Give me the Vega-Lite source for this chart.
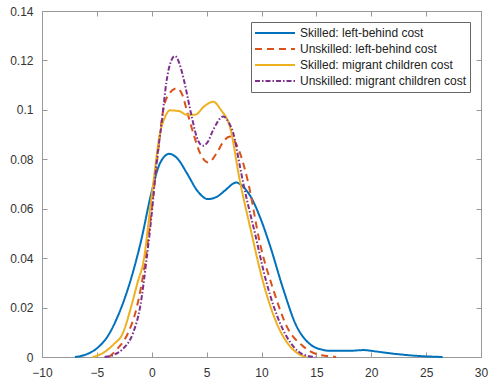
{
  "$schema": "https://vega.github.io/schema/vega-lite/v6.json",
  "width": 439,
  "height": 346,
  "autosize": "none",
  "padding": {"left": 42, "top": 11, "right": 9, "bottom": 29},
  "background": "white",
  "config": {
    "view": {"stroke": "#999999", "strokeWidth": 1},
    "font": "Liberation Sans",
    "axis": {
      "domainColor": "#999999",
      "tickColor": "#999999",
      "grid": false,
      "labelFont": "Liberation Sans",
      "labelFontSize": 12,
      "labelColor": "#333333",
      "tickSize": -5,
      "titleFontSize": 0
    }
  },
  "data": {
    "values": [
      {"s": "Skilled: left-behind cost", "x": -7.0, "y": 0},
      {"s": "Skilled: left-behind cost", "x": -6, "y": 0.001},
      {"s": "Skilled: left-behind cost", "x": -5, "y": 0.0035},
      {"s": "Skilled: left-behind cost", "x": -4, "y": 0.0085},
      {"s": "Skilled: left-behind cost", "x": -3, "y": 0.0175},
      {"s": "Skilled: left-behind cost", "x": -2, "y": 0.03},
      {"s": "Skilled: left-behind cost", "x": -1, "y": 0.0465},
      {"s": "Skilled: left-behind cost", "x": 0, "y": 0.067},
      {"s": "Skilled: left-behind cost", "x": 0.75, "y": 0.0784},
      {"s": "Skilled: left-behind cost", "x": 1.6, "y": 0.0822},
      {"s": "Skilled: left-behind cost", "x": 2.4, "y": 0.080},
      {"s": "Skilled: left-behind cost", "x": 3.2, "y": 0.0744},
      {"s": "Skilled: left-behind cost", "x": 4.2, "y": 0.067},
      {"s": "Skilled: left-behind cost", "x": 5.1, "y": 0.0639},
      {"s": "Skilled: left-behind cost", "x": 6.0, "y": 0.065},
      {"s": "Skilled: left-behind cost", "x": 6.7, "y": 0.0675},
      {"s": "Skilled: left-behind cost", "x": 7.7, "y": 0.0706},
      {"s": "Skilled: left-behind cost", "x": 8.3, "y": 0.069},
      {"s": "Skilled: left-behind cost", "x": 9.0, "y": 0.065},
      {"s": "Skilled: left-behind cost", "x": 10.0, "y": 0.055},
      {"s": "Skilled: left-behind cost", "x": 10.8, "y": 0.0447},
      {"s": "Skilled: left-behind cost", "x": 12.0, "y": 0.0272},
      {"s": "Skilled: left-behind cost", "x": 13.2, "y": 0.0124},
      {"s": "Skilled: left-behind cost", "x": 14.0, "y": 0.007},
      {"s": "Skilled: left-behind cost", "x": 14.7, "y": 0.0043},
      {"s": "Skilled: left-behind cost", "x": 15.5, "y": 0.003},
      {"s": "Skilled: left-behind cost", "x": 16.2, "y": 0.0025},
      {"s": "Skilled: left-behind cost", "x": 18.0, "y": 0.0025},
      {"s": "Skilled: left-behind cost", "x": 19.3, "y": 0.0028},
      {"s": "Skilled: left-behind cost", "x": 20.5, "y": 0.0022},
      {"s": "Skilled: left-behind cost", "x": 22.3, "y": 0.0012},
      {"s": "Skilled: left-behind cost", "x": 24.4, "y": 0.0004},
      {"s": "Skilled: left-behind cost", "x": 26.5, "y": 0},

      {"s": "Unskilled: left-behind cost", "x": -3.9, "y": 0},
      {"s": "Unskilled: left-behind cost", "x": -3.2, "y": 0.003},
      {"s": "Unskilled: left-behind cost", "x": -2.13, "y": 0.01},
      {"s": "Unskilled: left-behind cost", "x": -1.37, "y": 0.02},
      {"s": "Unskilled: left-behind cost", "x": -0.55, "y": 0.04},
      {"s": "Unskilled: left-behind cost", "x": 0, "y": 0.06},
      {"s": "Unskilled: left-behind cost", "x": 0.5, "y": 0.08},
      {"s": "Unskilled: left-behind cost", "x": 1.05, "y": 0.1},
      {"s": "Unskilled: left-behind cost", "x": 1.66, "y": 0.107},
      {"s": "Unskilled: left-behind cost", "x": 2.27, "y": 0.1087},
      {"s": "Unskilled: left-behind cost", "x": 2.8, "y": 0.106},
      {"s": "Unskilled: left-behind cost", "x": 3.18, "y": 0.1},
      {"s": "Unskilled: left-behind cost", "x": 3.79, "y": 0.0905},
      {"s": "Unskilled: left-behind cost", "x": 4.4, "y": 0.0825},
      {"s": "Unskilled: left-behind cost", "x": 5.15, "y": 0.0787},
      {"s": "Unskilled: left-behind cost", "x": 5.92, "y": 0.0825},
      {"s": "Unskilled: left-behind cost", "x": 6.5, "y": 0.087},
      {"s": "Unskilled: left-behind cost", "x": 7.13, "y": 0.0892},
      {"s": "Unskilled: left-behind cost", "x": 7.6, "y": 0.087},
      {"s": "Unskilled: left-behind cost", "x": 8.04, "y": 0.0825},
      {"s": "Unskilled: left-behind cost", "x": 8.8, "y": 0.0703},
      {"s": "Unskilled: left-behind cost", "x": 9.86, "y": 0.046},
      {"s": "Unskilled: left-behind cost", "x": 11.08, "y": 0.0272},
      {"s": "Unskilled: left-behind cost", "x": 12.3, "y": 0.0124},
      {"s": "Unskilled: left-behind cost", "x": 13.8, "y": 0.0043},
      {"s": "Unskilled: left-behind cost", "x": 15.0, "y": 0.0012},
      {"s": "Unskilled: left-behind cost", "x": 16.2, "y": 0.0003},
      {"s": "Unskilled: left-behind cost", "x": 16.8, "y": 0},

      {"s": "Skilled: migrant children cost", "x": -5.4, "y": 0},
      {"s": "Skilled: migrant children cost", "x": -4.5, "y": 0.0015},
      {"s": "Skilled: migrant children cost", "x": -3.5, "y": 0.005},
      {"s": "Skilled: migrant children cost", "x": -2.6, "y": 0.01},
      {"s": "Skilled: migrant children cost", "x": -1.9, "y": 0.02},
      {"s": "Skilled: migrant children cost", "x": -1.3, "y": 0.03},
      {"s": "Skilled: migrant children cost", "x": -0.7, "y": 0.04},
      {"s": "Skilled: migrant children cost", "x": -0.2, "y": 0.058},
      {"s": "Skilled: migrant children cost", "x": 0.14, "y": 0.0703},
      {"s": "Skilled: migrant children cost", "x": 0.75, "y": 0.0905},
      {"s": "Skilled: migrant children cost", "x": 1.2, "y": 0.097},
      {"s": "Skilled: migrant children cost", "x": 1.66, "y": 0.0998},
      {"s": "Skilled: migrant children cost", "x": 2.5, "y": 0.0995},
      {"s": "Skilled: migrant children cost", "x": 3.2, "y": 0.098},
      {"s": "Skilled: migrant children cost", "x": 3.94, "y": 0.098},
      {"s": "Skilled: migrant children cost", "x": 4.8, "y": 0.1015},
      {"s": "Skilled: migrant children cost", "x": 5.6, "y": 0.1033},
      {"s": "Skilled: migrant children cost", "x": 6.3, "y": 0.1},
      {"s": "Skilled: migrant children cost", "x": 7.13, "y": 0.093},
      {"s": "Skilled: migrant children cost", "x": 8.04, "y": 0.071},
      {"s": "Skilled: migrant children cost", "x": 8.95, "y": 0.0528},
      {"s": "Skilled: migrant children cost", "x": 10.17, "y": 0.0299},
      {"s": "Skilled: migrant children cost", "x": 11.38, "y": 0.0137},
      {"s": "Skilled: migrant children cost", "x": 12.6, "y": 0.0043},
      {"s": "Skilled: migrant children cost", "x": 13.4, "y": 0.0012},
      {"s": "Skilled: migrant children cost", "x": 14.1, "y": 0},

      {"s": "Unskilled: migrant children cost", "x": -4.3, "y": 0},
      {"s": "Unskilled: migrant children cost", "x": -3.5, "y": 0.0008},
      {"s": "Unskilled: migrant children cost", "x": -2.7, "y": 0.003},
      {"s": "Unskilled: migrant children cost", "x": -1.68, "y": 0.01},
      {"s": "Unskilled: migrant children cost", "x": -1.07, "y": 0.02},
      {"s": "Unskilled: migrant children cost", "x": -0.46, "y": 0.04},
      {"s": "Unskilled: migrant children cost", "x": 0, "y": 0.058},
      {"s": "Unskilled: migrant children cost", "x": 0.4, "y": 0.077},
      {"s": "Unskilled: migrant children cost", "x": 0.9, "y": 0.0946},
      {"s": "Unskilled: migrant children cost", "x": 1.36, "y": 0.112},
      {"s": "Unskilled: migrant children cost", "x": 1.7, "y": 0.119},
      {"s": "Unskilled: migrant children cost", "x": 2.12, "y": 0.1218},
      {"s": "Unskilled: migrant children cost", "x": 2.5, "y": 0.119},
      {"s": "Unskilled: migrant children cost", "x": 2.88, "y": 0.113},
      {"s": "Unskilled: migrant children cost", "x": 3.64, "y": 0.0973},
      {"s": "Unskilled: migrant children cost", "x": 4.1, "y": 0.089},
      {"s": "Unskilled: migrant children cost", "x": 4.64, "y": 0.0855},
      {"s": "Unskilled: migrant children cost", "x": 5.1, "y": 0.087},
      {"s": "Unskilled: migrant children cost", "x": 5.6, "y": 0.0919},
      {"s": "Unskilled: migrant children cost", "x": 6.52, "y": 0.0973},
      {"s": "Unskilled: migrant children cost", "x": 7.0, "y": 0.095},
      {"s": "Unskilled: migrant children cost", "x": 7.43, "y": 0.0905},
      {"s": "Unskilled: migrant children cost", "x": 8.04, "y": 0.077},
      {"s": "Unskilled: migrant children cost", "x": 8.34, "y": 0.0703},
      {"s": "Unskilled: migrant children cost", "x": 9.4, "y": 0.0501},
      {"s": "Unskilled: migrant children cost", "x": 10.47, "y": 0.0299},
      {"s": "Unskilled: migrant children cost", "x": 11.69, "y": 0.0137},
      {"s": "Unskilled: migrant children cost", "x": 12.9, "y": 0.0043},
      {"s": "Unskilled: migrant children cost", "x": 13.8, "y": 0.001},
      {"s": "Unskilled: migrant children cost", "x": 14.9, "y": 0}
    ]
  },
  "layer": [
    {
      "mark": {"type": "line", "strokeWidth": 2, "interpolate": "monotone"},
      "encoding": {
        "x": {
          "field": "x", "type": "quantitative",
          "scale": {"domain": [-10, 30], "nice": false},
          "axis": {"orient": "bottom", "values": [-10, -5, 0, 5, 10, 15, 20, 25, 30], "labelPadding": 15, "title": null, "labelFlush": false}
        },
        "y": {
          "field": "y", "type": "quantitative",
          "scale": {"domain": [0, 0.14], "nice": false},
          "axis": {"orient": "left", "values": [0, 0.02, 0.04, 0.06, 0.08, 0.1, 0.12, 0.14], "format": "~g", "labelPadding": 14, "title": null, "labelFlush": false}
        },
        "color": {
          "field": "s", "type": "nominal",
          "sort": ["Skilled: left-behind cost", "Unskilled: left-behind cost", "Skilled: migrant children cost", "Unskilled: migrant children cost"],
          "scale": {
            "domain": ["Skilled: left-behind cost", "Unskilled: left-behind cost", "Skilled: migrant children cost", "Unskilled: migrant children cost"],
            "range": ["#0072BD", "#D95319", "#EDB120", "#7E2F8E"]
          },
          "legend": {
            "title": null,
            "orient": "top-right",
            "offset": 11,
            "strokeColor": "#666666",
            "fillColor": "white",
            "padding": 3,
            "symbolType": "stroke",
            "symbolSize": 1600,
            "symbolStrokeWidth": 2,
            "labelFont": "Liberation Sans",
            "labelFontSize": 12,
            "labelColor": "#222222",
            "labelOffset": 4,
            "rowPadding": 0,
            "clipHeight": 16,
            "labelLimit": 300
          }
        },
        "strokeDash": {
          "field": "s", "type": "nominal",
          "sort": ["Skilled: left-behind cost", "Unskilled: left-behind cost", "Skilled: migrant children cost", "Unskilled: migrant children cost"],
          "scale": {
            "domain": ["Skilled: left-behind cost", "Unskilled: left-behind cost", "Skilled: migrant children cost", "Unskilled: migrant children cost"],
            "range": [[1, 0], [7, 5], [1, 0], [5, 2, 1.5, 2]]
          },
          "legend": {
            "title": null,
            "orient": "top-right",
            "offset": 11,
            "strokeColor": "#666666",
            "fillColor": "white",
            "padding": 3,
            "symbolType": "stroke",
            "symbolSize": 1600,
            "symbolStrokeWidth": 2,
            "labelFont": "Liberation Sans",
            "labelFontSize": 12,
            "labelColor": "#222222",
            "labelOffset": 4,
            "rowPadding": 0,
            "clipHeight": 16,
            "labelLimit": 300
          }
        }
      }
    },
    {
      "mark": {"type": "line", "strokeOpacity": 0},
      "encoding": {
        "x": {
          "field": "x", "type": "quantitative",
          "axis": {"orient": "top", "values": [-10, -5, 0, 5, 10, 15, 20, 25, 30], "labels": false, "title": null}
        },
        "y": {
          "field": "y", "type": "quantitative",
          "axis": {"orient": "right", "values": [0, 0.02, 0.04, 0.06, 0.08, 0.1, 0.12, 0.14], "labels": false, "title": null}
        },
        "detail": {"field": "s", "type": "nominal"}
      }
    }
  ],
  "resolve": {"axis": {"x": "independent", "y": "independent"}}
}
